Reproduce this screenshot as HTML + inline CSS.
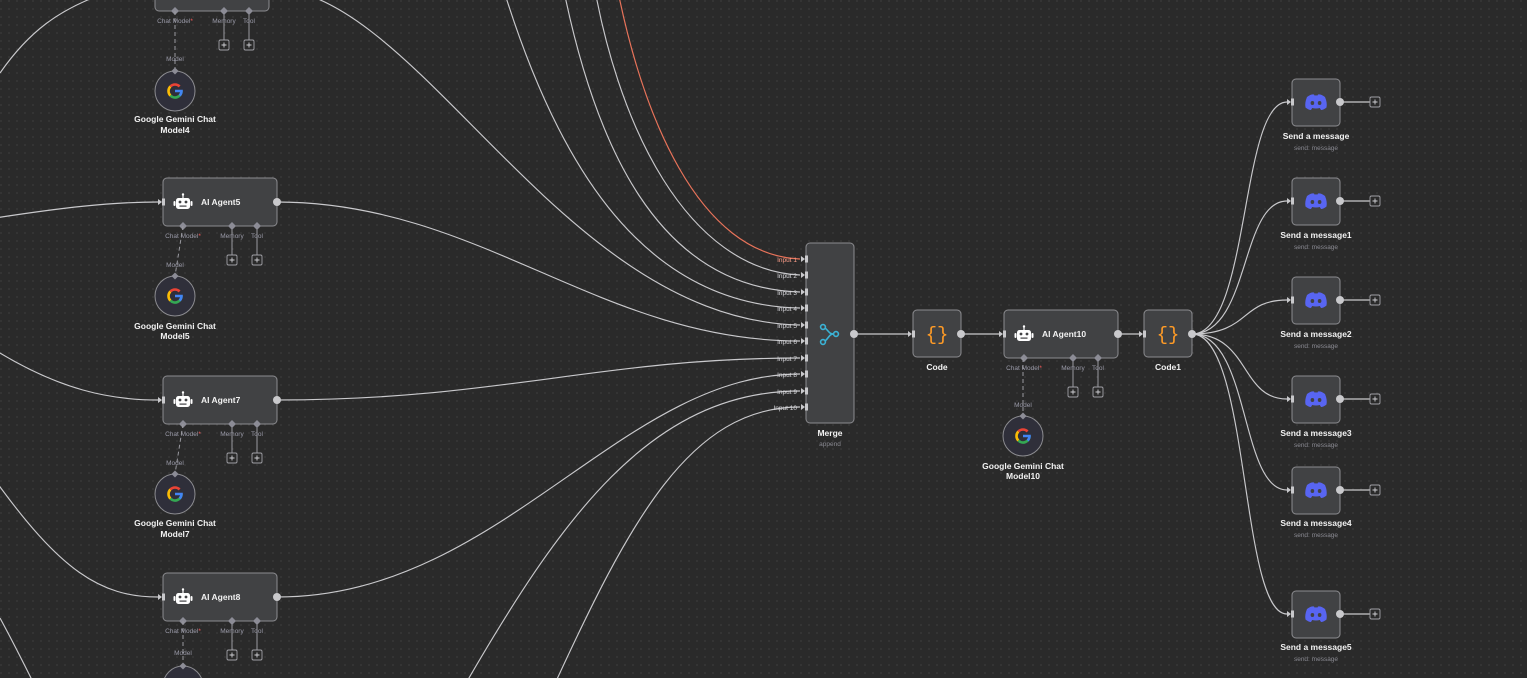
<!DOCTYPE html>
<html><head><meta charset="utf-8"><style>
html,body{margin:0;padding:0;background:#2a2a2a;}
svg{display:block;font-family:"Liberation Sans",sans-serif;}
.e{fill:none;stroke:#c9c9cc;stroke-width:1.15}
.n{fill:#414244;stroke:#8c8c90;stroke-width:1}
.t{fill:#f2f2f2;font-size:8.5px;font-weight:bold}
.s{fill:#8a8a92;font-size:6.5px}
.l{fill:#9a9aa8;font-size:6.5px}
.in{fill:#d8d8dc;font-size:6.5px}
</style></head><body>
<svg width="1527" height="678" viewBox="0 0 1527 678" xmlns="http://www.w3.org/2000/svg">
<defs>
<pattern id="dots" width="8" height="8" patternUnits="userSpaceOnUse"><circle cx="1" cy="1" r="0.6" fill="#4a4a4a"/></pattern>
<g id="robot"><rect x="-7" y="-5" width="14" height="11" rx="2.5" fill="#fff"/><rect x="-9.5" y="-2" width="2" height="5" rx="1" fill="#fff"/><rect x="7.5" y="-2" width="2" height="5" rx="1" fill="#fff"/><rect x="-0.6" y="-8.5" width="1.2" height="4" fill="#fff"/><circle cx="0" cy="-8.5" r="1.2" fill="#fff"/><circle cx="-3" cy="-1" r="1.4" fill="#414244"/><circle cx="3" cy="-1" r="1.4" fill="#414244"/><rect x="-3.5" y="2.5" width="7" height="1.2" fill="#414244"/></g>
<g id="gem"><circle r="20" fill="#2f2f3a" stroke="#8c8c90" stroke-width="1"/>
<path d="M6.5 0 A6.5 6.5 0 0 1 -4.6 4.6" fill="none" stroke="#34a853" stroke-width="2.6"/>
<path d="M-4.6 4.6 A6.5 6.5 0 0 1 -4.6 -4.6" fill="none" stroke="#fbbc05" stroke-width="2.6"/>
<path d="M-4.6 -4.6 A6.5 6.5 0 0 1 4.6 -4.6" fill="none" stroke="#ea4335" stroke-width="2.6"/>
<path d="M0 0 H6.5 A6.5 6.5 0 0 1 4.6 4.6" fill="none" stroke="#4285f4" stroke-width="2.6"/>
<polygon points="0,-23.5 3.5,-20 0,-16.5 -3.5,-20" fill="#8c8c96"/></g>
<g id="disc"><path d="M-9 -5 Q-5 -8 -2 -7.5 L-1.5 -6.5 Q0 -6.8 1.5 -6.5 L2 -7.5 Q5 -8 9 -5 Q11.5 1 10.5 5.5 Q7.5 8 5 8 L3.8 6 Q0 7 -3.8 6 L-5 8 Q-7.5 8 -10.5 5.5 Q-11.5 1 -9 -5Z" fill="#5865f2"/><ellipse cx="-3.6" cy="1" rx="1.8" ry="2" fill="#414244"/><ellipse cx="3.6" cy="1" rx="1.8" ry="2" fill="#414244"/></g>
<g id="curly"><text x="0" y="6" text-anchor="middle" font-size="19" fill="#ff9b26" font-family="Liberation Mono,monospace">{}</text></g>
<g id="inp"><rect x="-1" y="-3.5" width="3" height="7" fill="#c9c9cc"/><polygon points="-5,-3 -1,0 -5,3" fill="#c9c9cc"/></g>
<g id="plus"><rect x="-5" y="-5" width="10" height="10" rx="1.5" fill="#2a2a2a" stroke="#a0a0a6" stroke-width="0.9"/><path d="M-2.5 0H2.5M0 -2.5V2.5" stroke="#d0d0d4" stroke-width="0.9"/></g>
<polygon id="dia" points="0,-4 4,0 0,4 -4,0" fill="#8c8c96"/>
<g id="agent">
<rect class="n" x="0" y="0" width="114" height="48" rx="4"/>
<use href="#inp" x="0" y="24"/>
<circle cx="114" cy="24" r="4" fill="#c9c9cc"/>
<use href="#robot" x="20" y="25"/>
<line x1="69" y1="48" x2="69" y2="77" stroke="#9a9aa0" stroke-width="1"/>
<line x1="94" y1="48" x2="94" y2="77" stroke="#9a9aa0" stroke-width="1"/>
<use href="#dia" x="20" y="48"/><use href="#dia" x="69" y="48"/><use href="#dia" x="94" y="48"/>
<use href="#plus" x="69" y="82"/><use href="#plus" x="94" y="82"/>
<text class="l" x="20" y="60" text-anchor="middle">Chat Model<tspan fill="#ff5c5c">*</tspan></text>
<text class="l" x="69" y="60" text-anchor="middle">Memory</text>
<text class="l" x="94" y="60" text-anchor="middle">Tool</text>
</g>
</defs>
<rect width="1527" height="678" fill="#2a2a2a"/>
<rect width="1527" height="678" fill="url(#dots)"/>

<path class="e" d="M590 -40 C615 130, 690 270, 800 275"/>
<path class="e" d="M558 -40 C592 150, 660 288, 800 292"/>
<path class="e" d="M492 -50 C550 160, 640 305, 800 308"/>
<path class="e" d="M269 -12 C420 -12, 560 320, 800 325"/>
<path class="e" d="M277 202 C480 202, 600 341, 800 341"/>
<path class="e" d="M277 400 C500 400, 600 358, 800 358"/>
<path class="e" d="M277 597 C500 597, 620 374, 800 374"/>
<path class="e" d="M462 690 C560 520, 650 391, 800 391"/>
<path class="e" d="M552 690 C630 520, 690 407, 800 407"/>
<path d="M612 -40 C640 120, 700 255, 800 259" fill="none" stroke="#e8735a" stroke-width="1.2"/>
<path class="e" d="M0 73 C30 30, 60 10, 100 -5"/>
<path class="e" d="M-5 218 C60 208, 110 202, 158 202"/>
<path class="e" d="M-5 350 C60 390, 110 400, 158 400"/>
<path class="e" d="M-5 480 C60 570, 100 597, 158 597"/>
<path class="e" d="M0 618 C12 640, 22 660, 32 680"/>
<line class="e" x1="854" y1="334" x2="908" y2="334"/>
<line class="e" x1="961" y1="334" x2="999" y2="334"/>
<line class="e" x1="1118" y1="334" x2="1139" y2="334"/>
<path class="e" d="M1192 334 C1250 334, 1240 102, 1287 102"/>
<path class="e" d="M1192 334 C1250 334, 1240 201, 1287 201"/>
<path class="e" d="M1192 334 C1250 334, 1240 300, 1287 300"/>
<path class="e" d="M1192 334 C1250 334, 1240 399, 1287 399"/>
<path class="e" d="M1192 334 C1250 334, 1240 490, 1287 490"/>
<path class="e" d="M1192 334 C1250 334, 1240 614, 1287 614"/>

<use href="#agent" x="155" y="-37"/>
<line x1="175" y1="11" x2="175" y2="71" stroke="#9a9aa0" stroke-dasharray="4 3"/>
<text class="l" x="175" y="61" text-anchor="middle">Model</text>
<use href="#gem" x="175" y="91"/>
<text class="t" x="175" y="122" text-anchor="middle">Google Gemini Chat</text>
<text class="t" x="175" y="133" text-anchor="middle">Model4</text>

<use href="#agent" x="163" y="178"/>
<text class="t" x="201" y="205">AI Agent5</text>
<line x1="183" y1="226" x2="175" y2="276" stroke="#9a9aa0" stroke-dasharray="4 3"/>
<text class="l" x="175" y="267" text-anchor="middle">Model</text>
<use href="#gem" x="175" y="296"/>
<text class="t" x="175" y="329" text-anchor="middle">Google Gemini Chat</text>
<text class="t" x="175" y="339" text-anchor="middle">Model5</text>

<use href="#agent" x="163" y="376"/>
<text class="t" x="201" y="403">AI Agent7</text>
<line x1="183" y1="424" x2="175" y2="474" stroke="#9a9aa0" stroke-dasharray="4 3"/>
<text class="l" x="175" y="465" text-anchor="middle">Model</text>
<use href="#gem" x="175" y="494"/>
<text class="t" x="175" y="526" text-anchor="middle">Google Gemini Chat</text>
<text class="t" x="175" y="537" text-anchor="middle">Model7</text>

<use href="#agent" x="163" y="573"/>
<text class="t" x="201" y="600">AI Agent8</text>
<line x1="183" y1="621" x2="183" y2="663" stroke="#9a9aa0" stroke-dasharray="4 3"/>
<text class="l" x="183" y="655" text-anchor="middle">Model</text>
<use href="#gem" x="183" y="686"/>

<rect class="n" x="806" y="243" width="48" height="180" rx="4"/>
<circle cx="854" cy="334" r="4" fill="#c9c9cc"/>
<g fill="none" stroke="#3bb3d6" stroke-width="1.6">
<circle cx="823" cy="327" r="2.4"/><circle cx="823" cy="342" r="2.4"/><circle cx="836" cy="334" r="2.4"/>
<path d="M825 328 C829 331, 829 334, 833.6 334 M825 341 C829 338, 829 334, 833.6 334"/></g>
<g class="in" text-anchor="end">
<text x="797" y="262" fill="#ff9f8a">Input 1</text><text x="797" y="278">Input 2</text><text x="797" y="295">Input 3</text><text x="797" y="311">Input 4</text><text x="797" y="328">Input 5</text><text x="797" y="344">Input 6</text><text x="797" y="361">Input 7</text><text x="797" y="377">Input 8</text><text x="797" y="394">Input 9</text><text x="797" y="410">Input 10</text></g>
<use href="#inp" x="806" y="259"/><use href="#inp" x="806" y="275"/><use href="#inp" x="806" y="292"/><use href="#inp" x="806" y="308"/><use href="#inp" x="806" y="325"/><use href="#inp" x="806" y="341"/><use href="#inp" x="806" y="358"/><use href="#inp" x="806" y="374"/><use href="#inp" x="806" y="391"/><use href="#inp" x="806" y="407"/>
<text class="t" x="830" y="436" text-anchor="middle">Merge</text>
<text class="s" x="830" y="446" text-anchor="middle">append</text>

<rect class="n" x="913" y="310" width="48" height="47" rx="4"/>
<use href="#inp" x="913" y="334"/><circle cx="961" cy="334" r="4" fill="#c9c9cc"/>
<use href="#curly" x="937" y="334"/>
<text class="t" x="937" y="370" text-anchor="middle">Code</text>

<use href="#agent" x="1004" y="310"/>
<text class="t" x="1042" y="337">AI Agent10</text>
<line x1="1023" y1="358" x2="1023" y2="414" stroke="#9a9aa0" stroke-dasharray="4 3"/>
<text class="l" x="1023" y="407" text-anchor="middle">Model</text>
<use href="#gem" x="1023" y="436"/>
<text class="t" x="1023" y="469" text-anchor="middle">Google Gemini Chat</text>
<text class="t" x="1023" y="479" text-anchor="middle">Model10</text>

<rect class="n" x="1144" y="310" width="48" height="47" rx="4"/>
<use href="#inp" x="1144" y="334"/><circle cx="1192" cy="334" r="4" fill="#c9c9cc"/>
<use href="#curly" x="1168" y="334"/>
<text class="t" x="1168" y="370" text-anchor="middle">Code1</text>

<g id="d0">
<rect class="n" x="1292" y="79" width="48" height="47" rx="4"/><use href="#inp" x="1292" y="102"/>
<line class="e" x1="1340" y1="102" x2="1370" y2="102"/><circle cx="1340" cy="102" r="4" fill="#c9c9cc"/><use href="#plus" x="1375" y="102"/>
<use href="#disc" x="1316" y="102"/></g>
<text class="t" x="1316" y="139" text-anchor="middle">Send a message</text><text class="s" x="1316" y="150" text-anchor="middle">send: message</text>
<use href="#d0" y="99"/>
<text class="t" x="1316" y="238" text-anchor="middle">Send a message1</text><text class="s" x="1316" y="249" text-anchor="middle">send: message</text>
<use href="#d0" y="198"/>
<text class="t" x="1316" y="337" text-anchor="middle">Send a message2</text><text class="s" x="1316" y="348" text-anchor="middle">send: message</text>
<use href="#d0" y="297"/>
<text class="t" x="1316" y="436" text-anchor="middle">Send a message3</text><text class="s" x="1316" y="447" text-anchor="middle">send: message</text>
<use href="#d0" y="388"/>
<text class="t" x="1316" y="526" text-anchor="middle">Send a message4</text><text class="s" x="1316" y="537" text-anchor="middle">send: message</text>
<use href="#d0" y="512"/>
<text class="t" x="1316" y="650" text-anchor="middle">Send a message5</text><text class="s" x="1316" y="661" text-anchor="middle">send: message</text>
</svg>
</body></html>
